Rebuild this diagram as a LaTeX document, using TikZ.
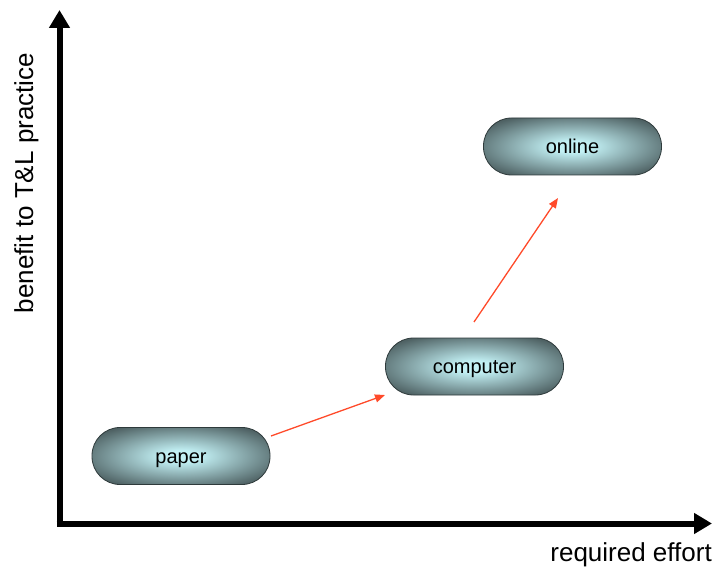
\documentclass[tikz,border=0pt]{standalone}
\usepackage{fontspec}
\setmainfont{Liberation Sans}
\usetikzlibrary{arrows.meta}
\definecolor{boxinner}{HTML}{C2F0F4}
\definecolor{boxouter}{HTML}{4F6264}
\definecolor{boxline}{HTML}{2E3A3B}
\definecolor{flow}{HTML}{FF4A2A}
\pgfdeclareradialshading{pillshade}{\pgfpoint{0bp}{0bp}}{%
  color(0bp)=(boxinner); color(5bp)=(boxinner); color(30bp)=(boxouter); color(50bp)=(boxouter)}
\tikzset{
  stagebox/.style={draw=boxline, line width=0.8pt, rounded corners=28pt,
    minimum width=178pt, minimum height=57pt, shading=pillshade,
    font=\fontsize{20}{23}\selectfont, text=black,
    text height=14pt, text depth=0pt},
  axisline/.style={line width=6pt, -{Triangle[width=20pt,length=18pt]}},
  flowarrow/.style={draw=flow, line width=1.3pt, -{Triangle[width=8pt,length=10pt]}},
  axislabel/.style={font=\fontsize{26}{29}\selectfont, inner sep=0pt}
}
\begin{document}
\begin{tikzpicture}[x=1pt,y=-1pt]
\useasboundingbox (0,0) rectangle (723,567);
\coordinate (ytop) at (59.5,10);
\coordinate (xend) at (712,523.5);
\draw[axisline] (59.5,520.5) -- (ytop);
\draw[axisline] (56.5,523.5) -- (xend);
\node[stagebox] (paper) at (181,456) {paper};
\node[stagebox] (computer) at (474.5,366.5) {computer};
\node[stagebox] (online) at (572.5,146.5) {online};
\coordinate (a1s) at (271,436);
\coordinate (a1e) at (385,395);
\coordinate (a2s) at (474,322);
\coordinate (a2e) at (558,198);
\draw[flowarrow] (a1s) -- (a1e);
\draw[flowarrow] (a2s) -- (a2e);
\node[axislabel, anchor=base east] (xlab) at (712,561) {required effort};
\node[axislabel, rotate=90, anchor=base] (ylab) at (33,183) {benefit to T\&L practice};
\end{tikzpicture}
\end{document}
